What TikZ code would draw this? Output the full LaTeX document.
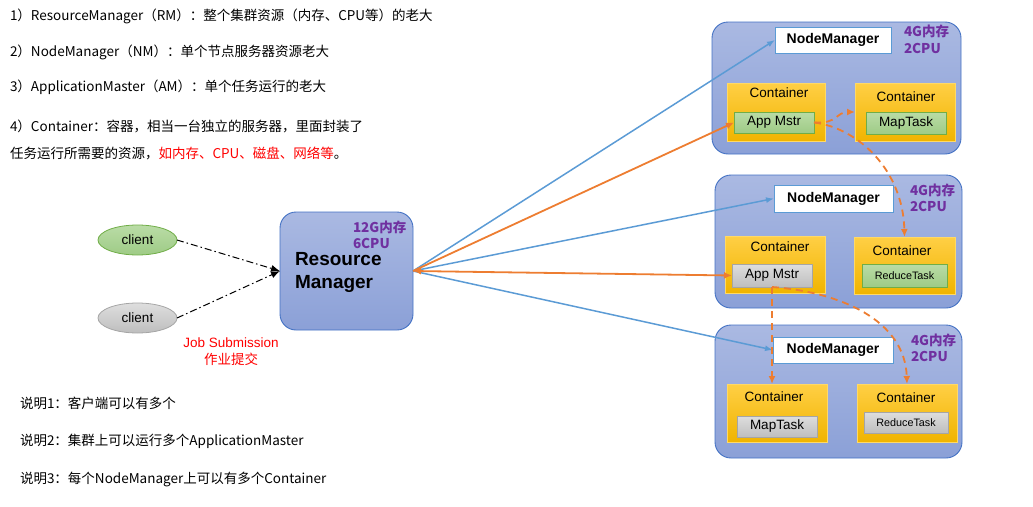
\documentclass[tikz,border=0pt]{standalone}
\usepackage{fontspec}
\setmainfont{Liberation Sans}
\newfontfamily\cjk{Noto Sans CJK SC}
\usetikzlibrary{arrows.meta,shapes.geometric}
\definecolor{nmtop}{HTML}{AAB9E2}
\definecolor{nmbot}{HTML}{8BA0D7}
\definecolor{nmdraw}{HTML}{4472C4}
\definecolor{cttop}{HTML}{FFCF45}
\definecolor{ctbot}{HTML}{F0B400}
\definecolor{ctdraw}{HTML}{FFD966}
\definecolor{gntop}{HTML}{BADCA6}
\definecolor{gnbot}{HTML}{9ECB86}
\definecolor{gndraw}{HTML}{70AD47}
\definecolor{gytop}{HTML}{DEDEDE}
\definecolor{gybot}{HTML}{BEBEBE}
\definecolor{gydraw}{HTML}{A5A5A5}
\definecolor{lblue}{HTML}{5B9BD5}
\definecolor{lorange}{HTML}{ED7D31}
\definecolor{purp}{HTML}{7030A0}
\definecolor{jred}{HTML}{FF0000}
\begin{document}
\begin{tikzpicture}[x=1pt,y=-1pt,
  every node/.style={inner sep=0pt, outer sep=0pt},
  txt/.style={anchor=west, font=\cjk\fontsize{13.5}{16}\selectfont},
  nmbox/.style={rectangle, rounded corners=16pt, top color=nmtop, bottom color=nmbot, draw=nmdraw, line width=0.9pt},
  nmlabel/.style={rectangle, fill=white, draw=lblue, line width=1pt, font=\fontsize{14}{16}\selectfont\bfseries},
  ctbox/.style={rectangle, top color=cttop, bottom color=ctbot, draw=ctdraw, line width=0.6pt},
  ctlabel/.style={font=\fontsize{13.5}{16}\selectfont},
  gtask/.style={rectangle, top color=gntop, bottom color=gnbot, draw=gndraw, line width=0.8pt, font=\fontsize{13.5}{16}\selectfont},
  ytask/.style={rectangle, top color=gytop, bottom color=gybot, draw=gydraw, line width=0.8pt, font=\fontsize{13.5}{16}\selectfont},
  res/.style={anchor=west, text=purp, font=\cjk\bfseries\fontsize{13.5}{16}\selectfont},
  blueline/.style={draw=lblue, line width=1.5pt, -{Latex[length=8pt,width=6pt]}},
  oline/.style={draw=lorange, line width=1.8pt, -{Latex[length=8pt,width=7pt]}},
  odash/.style={draw=lorange, line width=1.8pt, dash pattern=on 7pt off 5pt, -{Latex[length=8pt,width=7pt]}},
  jobline/.style={draw=black, line width=1pt, dash pattern=on 7pt off 3pt on 1.5pt off 3pt, -{Latex[length=9pt,width=7pt]}}
]
\useasboundingbox (0,0) rectangle (1033,506);

% explanatory text
\node[txt] (t1) at (10,16) {1）ResourceManager（RM）：整个集群资源（内存、CPU等）的老大};
\node[txt] (t2) at (10,52) {2）NodeManager（NM）：单个节点服务器资源老大};
\node[txt] (t3) at (10,87) {3）ApplicationMaster（AM）：单个任务运行的老大};
\node[txt] (t4) at (10,126) {4）Container：容器，相当一台独立的服务器，里面封装了};
\node[txt] (t5) at (10,153) {任务运行所需要的资源，\textcolor{jred}{如内存、CPU、磁盘、网络等}。};
\node[txt] (n1) at (20,403) {说明1：客户端可以有多个};
\node[txt] (n2) at (20,441) {说明2：集群上可以运行多个ApplicationMaster};
\node[txt] (n3) at (20,479) {说明3：每个NodeManager上可以有多个Container};

% clients
\node[ellipse, minimum width=79pt, minimum height=30pt, top color=gntop, bottom color=gnbot, draw=gndraw, line width=0.8pt, font=\fontsize{13.5}{16}\selectfont] (c1) at (137.5,240) {client};
\node[ellipse, minimum width=79pt, minimum height=30pt, top color=gytop, bottom color=gybot, draw=gydraw, line width=0.8pt, font=\fontsize{13.5}{16}\selectfont] (c2) at (137.5,318) {client};
\node[text=jred, font=\fontsize{13.5}{16}\selectfont] (js) at (231,343) {Job Submission};
\node[text=jred, font=\cjk\fontsize{13.5}{16}\selectfont] (zy) at (231,359) {作业提交};

% resource manager
\node[nmbox, minimum width=133pt, minimum height=118pt] (rm) at (346.5,271) {};
\node[anchor=west, align=left, font=\fontsize{19}{23}\selectfont\bfseries] (rmt) at (295,272) {Resource\\Manager};
\node[res] (rmr1) at (353,227) {12G内存};
\node[res] (rmr2) at (353,243) {6CPU};

% node manager 1
\node[nmbox, minimum width=249pt, minimum height=132pt] (nm1) at (836.5,88) {};
\node[nmlabel, minimum width=116pt, minimum height=26pt] (nm1l) at (833,40) {NodeManager};
\node[res] (nm1r1) at (904,31) {4G内存};
\node[res] (nm1r2) at (904,48) {2CPU};
\node[ctbox, minimum width=98pt, minimum height=58pt] (c1a) at (776,112) {};
\node[ctlabel] (c1al) at (779,93) {Container};
\node[gtask, minimum width=80pt, minimum height=21pt] (am1) at (774,122.5) {App Mstr};
\node[ctbox, minimum width=100pt, minimum height=58pt] (c1b) at (905,112) {};
\node[ctlabel] (c1bl) at (906,97) {Container};
\node[gtask, minimum width=80pt, minimum height=22pt] (mt1) at (906,123) {MapTask};

% node manager 2
\node[nmbox, minimum width=247pt, minimum height=133pt] (nm2) at (838.5,241.5) {};
\node[nmlabel, minimum width=119pt, minimum height=27pt] (nm2l) at (833.5,198.5) {NodeManager};
\node[res] (nm2r1) at (910,190) {4G内存};
\node[res] (nm2r2) at (910,206) {2CPU};
\node[ctbox, minimum width=100pt, minimum height=57pt] (c2a) at (775,264.5) {};
\node[ctlabel] (c2al) at (780,247) {Container};
\node[ytask, minimum width=80pt, minimum height=23pt] (am2) at (772,275.5) {App Mstr};
\node[ctbox, minimum width=101pt, minimum height=57pt] (c2b) at (904.5,265.5) {};
\node[ctlabel] (c2bl) at (902,251) {Container};
\node[gtask, minimum width=85pt, minimum height=23pt, font=\fontsize{10.8}{13}\selectfont] (rt2) at (904.5,275.5) {ReduceTask};

% node manager 3
\node[nmbox, minimum width=247pt, minimum height=133pt] (nm3) at (838.5,391.5) {};
\node[nmlabel, minimum width=120pt, minimum height=26pt] (nm3l) at (833,350) {NodeManager};
\node[res] (nm3r1) at (911,340) {4G内存};
\node[res] (nm3r2) at (911,356) {2CPU};
\node[ctbox, minimum width=100pt, minimum height=58pt] (c3a) at (777,413) {};
\node[ctlabel] (c3al) at (774,397) {Container};
\node[ytask, minimum width=80pt, minimum height=21pt] (mt3) at (777,426.5) {MapTask};
\node[ctbox, minimum width=100pt, minimum height=58pt] (c3b) at (907,413) {};
\node[ctlabel] (c3bl) at (906,398) {Container};
\node[ytask, minimum width=84pt, minimum height=21pt, font=\fontsize{10.8}{13}\selectfont] (rt3) at (906,422.5) {ReduceTask};

% job submission
\draw[jobline] (c1.east) -- (rm.west);
\draw[jobline] (c2.east) -- (rm.west);

% RM to node managers
\draw[blueline] (rm.east) -- (nm1l.west);
\draw[blueline] (rm.east) -- (nm2l.west);
\draw[blueline] (rm.east) -- (nm3l.west);
\draw[oline] (rm.east) -- (am1.west);
\draw[draw=lorange, line width=1.8pt, {Latex[length=8pt,width=7pt]}-{Latex[length=8pt,width=7pt]}] (rm.east) -- (am2.west);

% app master to containers
\draw[odash] (am1.east) .. controls (838,124) and (836,112) .. (c1b.west);
\draw[odash] (am1.east) .. controls (858,128) and (903,170) .. (c2b.north);
\draw[odash] (am2.south) -- (am2.south |- c3a.north);
\draw[odash] (am2.south) .. controls (840,292) and (905,320) .. (c3b.north);
\end{tikzpicture}
\end{document}
